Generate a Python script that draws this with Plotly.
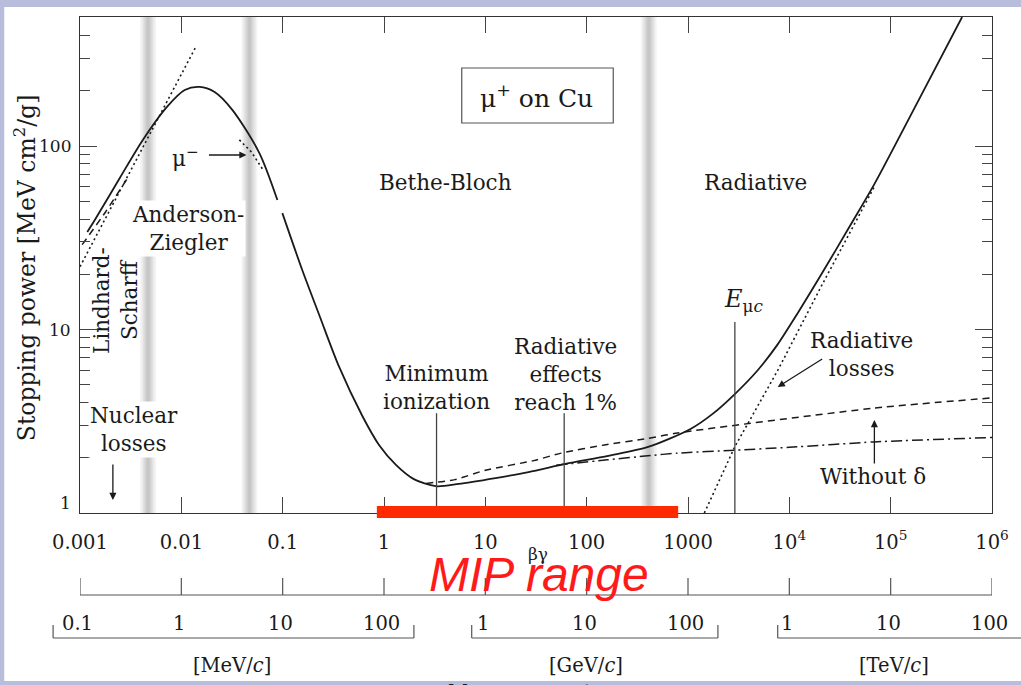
import math
import plotly.graph_objects as go

# ---- stopping power of mu+ in copper, MeV cm^2/g, versus beta*gamma ----
bg_total = [0.00118, 0.0014, 0.00247, 0.00417, 0.00718, 0.0108, 0.0151, 0.0213,
            0.032, 0.0589, 0.0887, None, 0.0993, 0.156, 0.2295, 0.361, 0.608,
            0.893, 1.312, 1.97, 3.24, 5.47, 12.6, 26.7, 61.7, 163, 404, 1069,
            1762, 2898, 4876, 7674, 12000, 21280, 40000, 69040, 182800, 506900]
s_total = [34, 39.5, 67, 108, 163, 202, 210, 197,
           157, 91.6, 50.8, None, 43.1, 21.1, 12.0, 6.25, 3.4,
           2.35, 1.83, 1.53, 1.40, 1.44, 1.55, 1.67, 1.85, 2.05, 2.29, 2.88,
           3.48, 4.45, 6.0, 8.3, 12.2, 20.5, 37, 62, 172, 505]

# ionization without density-effect correction (dashed), incl. Lindhard-Scharff piece
bg_nodelta = [0.00105, 0.0018, 0.0029, None, 2.6, 5, 10, 30, 56, 150, 400, 790, 69000, 1000000]
s_nodelta = [29, 44, 66, None, 1.45, 1.52, 1.71, 1.93, 2.12, 2.35, 2.55, 2.73, 3.73, 4.24]

# electronic (ionization) losses only (dash-dot)
bg_ion = [50, 160, 400, 790, 2900, 10000, 69000, 1000000]
s_ion = [1.82, 1.95, 2.05, 2.12, 2.2, 2.28, 2.44, 2.58]

# radiative losses (dotted)
bg_rad = [1450, 2900, 7700, 21000, 69000]
s_rad = [1.0, 2.3, 6.0, 17.5, 60]

# low-energy Lindhard-Scharff extrapolation (dotted)
bg_ls = [0.001, 0.014]
s_ls = [22, 350]

# mu- near the Anderson-Ziegler / Bethe boundary (dotted)
bg_mum = [0.0374, 0.049, 0.0632]
s_mum = [108, 93, 75]

# boundaries between the models (shaded bands)
band_centers = [0.0047, 0.047, 410]

# marked energies: minimum ionization, radiative 1 %, muon critical energy
mark_bg = [3.3, 60, 2900]
mark_top = [3.5, 3.5, 11]

# MIP range on the beta*gamma axis
mip_range = [0.85, 800]

# axis ticks
x_tickvals = [1e-3, 1e-2, 1e-1, 1, 10, 100, 1000, 1e4, 1e5, 1e6]
x_ticktext = ["0.001", "0.01", "0.1", "1", "10", "100", "1000",
              "10<sup>4</sup>", "10<sup>5</sup>", "10<sup>6</sup>"]
y_tickvals = [1, 10, 100]
y_ticktext = ["1", "10", "100"]
y_minor = [m * d for d in (1, 10, 100) for m in range(2, 10) if m * d < 505]

# muon momentum scales
MUON_MASS_MEV = 105.658
p_mev = [0.1, 1, 10, 100]
p_gev = [1, 10, 100]
p_tev = [1, 10, 100]

# ---- page geometry ----
W, H = 1021, 685
PL, PR, PT, PB = 80, 995, 17, 513
X_LOG = (-3, 6)
Y_LOG = (0, math.log10(505))


def xp(px):
    return (px - PL) / (PR - PL)


def yp(py):
    return (PB - py) / (PB - PT)


def x_of(bg):
    """paper x of a beta*gamma value"""
    return (math.log10(bg) - X_LOG[0]) / (X_LOG[1] - X_LOG[0])


SERIF = "DejaVu Serif"
INK = "#1a1a1a"
LAV = "#b8bddb"
LBL = 21.5

fig = go.Figure()

fig.add_trace(go.Scatter(x=bg_total, y=s_total, mode="lines", connectgaps=False,
                         line=dict(color=INK, width=1.8, shape="spline", smoothing=0.8)))
fig.add_trace(go.Scatter(x=bg_nodelta, y=s_nodelta, mode="lines", connectgaps=False,
                         line=dict(color=INK, width=1.5, dash="7px,5px", shape="spline", smoothing=0.6)))
fig.add_trace(go.Scatter(x=bg_ion, y=s_ion, mode="lines",
                         line=dict(color=INK, width=1.5, dash="11px,4px,2px,4px", shape="spline", smoothing=0.6)))
for bx, sy in ((bg_rad, s_rad), (bg_ls, s_ls), (bg_mum, s_mum)):
    fig.add_trace(go.Scatter(x=bx, y=sy, mode="lines",
                             line=dict(color=INK, width=1.6, dash="2px,3px")))

# vertical markers
vx, vy = [], []
for b, t in zip(mark_bg, mark_top):
    vx += [b, b, None]
    vy += [1, t, None]
fig.add_trace(go.Scatter(x=vx, y=vy, mode="lines", line=dict(color="#444", width=1.3)))

shapes = []
# page background
shapes.append(dict(type="rect", xref="paper", yref="paper", x0=xp(4), x1=xp(W + 5),
                   y0=yp(681), y1=yp(7), fillcolor="white", line=dict(width=0), layer="below"))
# shaded bands
for c in band_centers:
    lc = math.log10(c)
    for hw in (0.08, 0.065, 0.05, 0.038, 0.026, 0.015):
        shapes.append(dict(type="rect", xref="x", yref="paper",
                           x0=10 ** (lc - hw), x1=10 ** (lc + hw), y0=0, y1=1,
                           fillcolor="rgba(0,0,0,0.04)", line=dict(width=0), layer="below"))
# label box
shapes.append(dict(type="rect", xref="paper", yref="paper", x0=xp(463), x1=xp(615),
                   y0=yp(123), y1=yp(68), line=dict(color="#555", width=1.2), fillcolor="white"))
# MIP range bar
shapes.append(dict(type="rect", xref="x", yref="paper", x0=mip_range[0], x1=mip_range[1],
                   y0=yp(518), y1=yp(506), fillcolor="#ff2a00", line=dict(width=0), layer="above"))

# secondary beta*gamma ruler
AX = "#555"
shapes.append(dict(type="line", xref="x", yref="paper", x0=x_tickvals[0], x1=x_tickvals[-1],
                   y0=yp(595), y1=yp(595), line=dict(color=AX, width=1.2)))
for v in x_tickvals:
    shapes.append(dict(type="line", xref="x", yref="paper", x0=v, x1=v,
                       y0=yp(595), y1=yp(578), line=dict(color=AX, width=1.2)))


# momentum brackets
def bracket(px0, px1, right_end=True):
    shapes.append(dict(type="line", xref="paper", yref="paper", x0=xp(px0), x1=xp(px1),
                       y0=yp(638), y1=yp(638), line=dict(color=AX, width=1.2)))
    shapes.append(dict(type="line", xref="paper", yref="paper", x0=xp(px0), x1=xp(px0),
                       y0=yp(638), y1=yp(625), line=dict(color=AX, width=1.2)))
    if right_end:
        shapes.append(dict(type="line", xref="paper", yref="paper", x0=xp(px1), x1=xp(px1),
                           y0=yp(638), y1=yp(625), line=dict(color=AX, width=1.2)))


bracket(53, 415)
bracket(473, 720)
bracket(780, W + 10, right_end=False)

ann = []


def text(px, py, s, size=LBL, **kw):
    d = dict(xref="paper", yref="paper", x=xp(px), y=yp(py), text=s, showarrow=False,
             font=dict(family=SERIF, size=size, color=INK), xanchor="center", yanchor="middle")
    d.update(kw)
    ann.append(d)


def arrow(hx, hy, tx, ty):
    ann.append(dict(xref="paper", yref="paper", x=xp(hx), y=yp(hy), ax=tx - hx, ay=ty - hy,
                    text="", showarrow=True, arrowhead=2, arrowsize=1.1, arrowwidth=1.3,
                    arrowcolor=INK))


text(538, 96, "μ<sup>+</sup> on Cu", size=25)
text(447, 182, "Bethe-Bloch")
text(758, 182, "Radiative")
text(188, 229, "Anderson-<br>Ziegler", bgcolor="white")
text(115, 300, "Lindhard-<br>Scharff", textangle=-90)
text(134, 429, "Nuclear<br>losses", bgcolor="white")
text(186, 157, "μ<sup>−</sup>")
text(438, 387, "Minimum<br>ionization")
text(567, 374, "Radiative<br>effects<br>reach 1%")
text(746, 300, "<i>E</i><sub>μ<i>c</i></sub>", size=24)
text(864, 354, "Radiative<br>losses")
text(876, 476, "Without δ")
text(25, 268, "Stopping power [MeV cm<sup>2</sup>/g]", size=23.5, textangle=-90)
text(540, 554, "βγ", size=17)
text(541, 574, "<i>MIP range</i>",
     font=dict(family="Liberation Sans", size=48, color="#ff1a1a"))

arrow(113, 500, 113, 463)
arrow(247, 155, 208, 155)
arrow(780, 387, 826, 358)
arrow(877, 420, 877, 465)

# y tick labels ("1" sits just above the corner)
for v, t in zip(y_tickvals, y_ticktext):
    ann.append(dict(xref="paper", yref="y", x=xp(73), y=math.log10(v), text=t,
                    showarrow=False, xanchor="right", yanchor="middle",
                    yshift=10 if v == y_tickvals[0] else 0,
                    font=dict(family=SERIF, size=17, color=INK)))

# momentum tick labels
for vals, scale in ((p_mev, 1.0), (p_gev, 1e3), (p_tev, 1e6)):
    for p in vals:
        ann.append(dict(xref="paper", yref="paper", x=x_of(p * scale / MUON_MASS_MEV), y=yp(623),
                        text=f"{p:g}", showarrow=False, xanchor="center", yanchor="middle",
                        font=dict(family=SERIF, size=19.5, color=INK)))
text(233, 665, "[MeV/<i>c</i>]", size=19.5)
text(588, 665, "[GeV/<i>c</i>]", size=19.5)
text(897, 665, "[TeV/<i>c</i>]", size=19.5)
text(447, 692, "Muon momentum", size=19.5, xanchor="left")

axis_common = dict(showgrid=False, zeroline=False, showline=True, linecolor="#333",
                   linewidth=1.2, mirror="allticks", ticks="inside", tickcolor="#444",
                   tickwidth=1.2, tickfont=dict(family=SERIF, size=19.5, color=INK))

fig.update_layout(
    width=W, height=H,
    margin=dict(l=PL, r=W - PR, t=PT, b=H - PB, pad=0),
    paper_bgcolor=LAV, plot_bgcolor="white",
    showlegend=False,
    shapes=shapes, annotations=ann,
    xaxis=dict(type="log", range=list(X_LOG), tickvals=x_tickvals, ticktext=x_ticktext,
               ticklen=16, ticklabelstandoff=11, **axis_common),
    yaxis=dict(type="log", range=list(Y_LOG), tickvals=y_tickvals, ticktext=y_ticktext,
               showticklabels=False, ticklen=17,
               minor=dict(tickvals=y_minor, ticks="inside", ticklen=10, tickcolor="#444",
                          tickwidth=1.1, showgrid=False),
               **axis_common),
)

fig.write_html("out.html")
